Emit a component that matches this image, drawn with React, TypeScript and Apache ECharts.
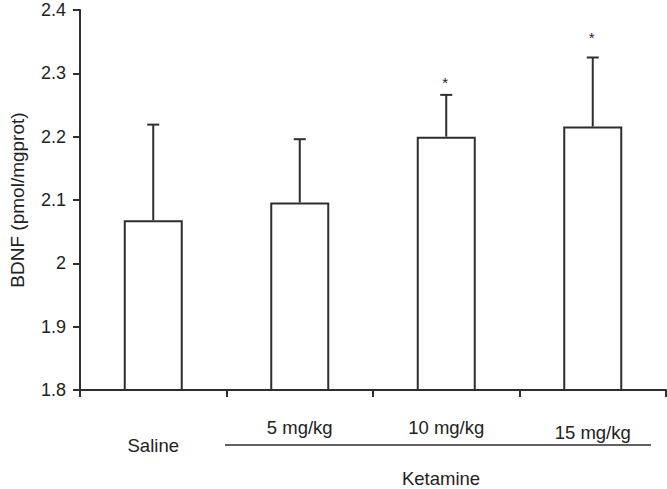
import React, { useEffect, useRef } from "react";
import * as echarts from "echarts";

const categories = ["Saline", "5 mg/kg", "10 mg/kg", "15 mg/kg"];
const means = [2.068, 2.096, 2.2, 2.216];
const errorTops = [2.219, 2.196, 2.266, 2.325];
const significance = ["", "", "*", "*"];
const starLevels = [null, null, 2.288, 2.359];
const yTicks = { min: 1.8, max: 2.4, interval: 0.1 };
const groupLabel = "Ketamine";
const yTitle = "BDNF (pmol/mgprot)";

const FONT = "'Liberation Sans', Arial, Helvetica, sans-serif";
const INK = "#2e2e2e";
const FS = 18.5;

export default function App() {
  const ref = useRef<HTMLDivElement>(null);
  useEffect(() => {
    if (!ref.current) return;
    const chart = echarts.init(ref.current, null, { renderer: "svg" });
    const errData = categories.map((c, i) => [i, means[i], errorTops[i], starLevels[i] ?? 0]);
    chart.setOption({
      animation: false,
      backgroundColor: "#ffffff",
      textStyle: { fontFamily: FONT },
      grid: { left: 71, top: 10, width: 595, height: 380, containLabel: false },
      xAxis: {
        type: "category",
        data: categories,
        axisLine: { lineStyle: { color: INK, width: 2 } },
        axisTick: { show: true, interval: 0, length: 7, lineStyle: { color: INK, width: 2 } },
        axisLabel: {
          interval: 0,
          margin: 28,
          color: "#222",
          fontSize: FS,
          fontFamily: FONT,
          formatter: (v: string) => {
            if (v === categories[0]) return "{low|" + v + "}";
            if (v === categories[3]) return "{mid|" + v + "}";
            return v;
          },
          rich: {
            low: { fontSize: FS, fontFamily: FONT, color: "#222", padding: [18, 0, 0, 0] },
            mid: { fontSize: FS, fontFamily: FONT, color: "#222", padding: [5, 0, 0, 0] },
          },
        },
        splitLine: { show: false },
      },
      yAxis: {
        type: "value",
        min: yTicks.min,
        max: yTicks.max,
        interval: yTicks.interval,
        name: yTitle,
        nameLocation: "middle",
        nameRotate: 90,
        nameGap: 53,
        nameTextStyle: { fontSize: 19, color: "#222", fontFamily: FONT },
        axisLine: { show: true, lineStyle: { color: INK, width: 2 } },
        axisTick: { show: true, length: 7, lineStyle: { color: INK, width: 2 } },
        axisLabel: {
          margin: 14,
          fontSize: 18,
          color: "#222",
          fontFamily: FONT,
          formatter: (v: number) => String(Math.round(v * 10) / 10),
        },
        splitLine: { show: false },
      },
      series: [
        {
          type: "bar",
          data: means,
          barWidth: 59,
          itemStyle: { color: "#ffffff", borderColor: INK, borderWidth: 2 },
          z: 2,
        },
        {
          type: "custom",
          data: errData,
          z: 3,
          renderItem: (params: any, api: any) => {
            const x = api.value(0);
            const base = api.coord([x, api.value(1)]);
            const top = api.coord([x, api.value(2)]);
            const star = significance[params.dataIndex];
            const children: any[] = [
              {
                type: "line",
                shape: { x1: base[0], y1: base[1], x2: top[0], y2: top[1] },
                style: { stroke: INK, lineWidth: 2 },
              },
              {
                type: "line",
                shape: { x1: top[0] - 6, y1: top[1], x2: top[0] + 6, y2: top[1] },
                style: { stroke: INK, lineWidth: 2 },
              },
            ];
            if (star) {
              const sp = api.coord([x, api.value(3)]);
              children.push({
                type: "text",
                style: {
                  text: star,
                  x: sp[0] - 1,
                  y: sp[1] + 2,
                  fill: "#222",
                  fontSize: 15,
                  fontFamily: FONT,
                  align: "center",
                  verticalAlign: "middle",
                },
              });
            }
            return { type: "group", children };
          },
        },
      ],
      graphic: [
        {
          type: "line",
          shape: { x1: 225, y1: 445, x2: 651, y2: 445 },
          style: { stroke: INK, lineWidth: 1.3 },
        },
        {
          type: "text",
          x: 441,
          y: 478,
          style: {
            text: groupLabel,
            fontSize: FS,
            fontFamily: FONT,
            fill: "#222",
            align: "center",
            verticalAlign: "middle",
          },
        },
      ],
    });
    return () => chart.dispose();
  }, []);
  return <div ref={ref} style={{ width: 667, height: 489, position: "absolute", left: 0, top: 0 }} />;
}
